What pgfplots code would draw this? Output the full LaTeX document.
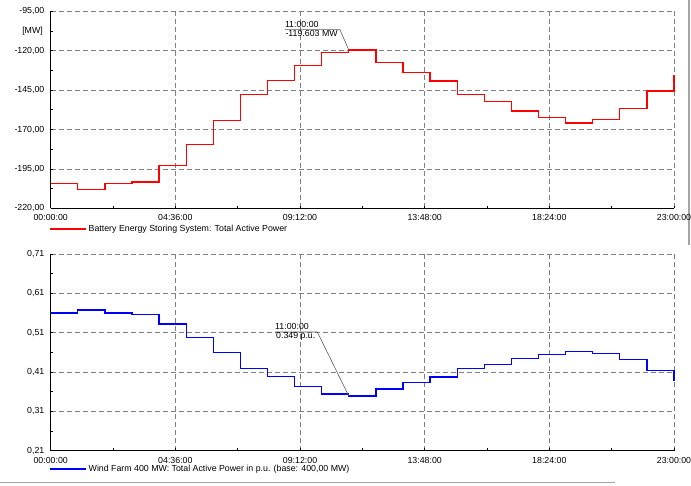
\documentclass[border=0pt]{standalone}
\usepackage{pgfplots}
\pgfplotsset{compat=1.18}
\usepackage{fontspec}
\setmainfont{Liberation Sans}
\definecolor{gridgray}{RGB}{128,128,128}
\definecolor{annot}{RGB}{90,90,90}
\definecolor{bessred}{RGB}{255,0,0}
\definecolor{windblue}{RGB}{0,0,255}
\definecolor{framegray}{RGB}{165,165,165}
\newcommand{\sz}{\fontsize{8.8}{10}\selectfont}
\pgfplotsset{
 mystyle/.style={
  scale only axis, width=623.3pt,
  xmin=0, xmax=23,
  axis x line*=bottom, axis y line*=left,
  axis line style={-, black, line width=0.9pt},
  xtick={0,4.6,9.2,13.8,18.4,23},
  xticklabels={00:00:00,04:36:00,09:12:00,13:48:00,18:24:00,23:00:00},
  minor xtick={2.3,6.9,11.5,16.1,20.7},
  grid=major,
  major grid style={gridgray, line width=0.7pt, dash pattern=on 5pt off 3pt},
  tick style={black, line width=0.6pt},
  major tick length=2.5pt, minor tick length=2.5pt,
  tick align=inside,
  ticklabel style={font=\sz},
  xticklabel style={yshift=-3pt},
  yticklabel style={xshift=-2.8pt},
  legend cell align=left,
  legend image code/.code={\draw[#1, line width=1.8pt] (0pt,0pt) -- (36pt,0pt);},
  clip=false,
 }
}
\pgfplotstableread{
h p
0 -204.3
1 -208.1
2 -204.3
3 -203.3
4 -192.9
5 -179.6
6 -164.2
7 -147.7
8 -139.0
9 -129.3
10 -121.2
11 -119.6
12 -127.6
13 -133.9
14 -139.2
15 -147.9
16 -152.1
17 -158.3
18 -162.5
19 -165.9
20 -163.7
21 -156.7
22 -145.6
23 -135.6
}\bess
\pgfplotstableread{
h p
0 0.560
1 0.568
2 0.560
3 0.557
4 0.532
5 0.498
6 0.459
7 0.419
8 0.398
9 0.373
10 0.354
11 0.349
12 0.367
13 0.384
14 0.397
15 0.419
16 0.429
17 0.445
18 0.455
19 0.462
20 0.457
21 0.441
22 0.413
23 0.386
}\wind
\begin{document}
\begin{tikzpicture}[x=1pt,y=1pt]
\path[use as bounding box] (0,0) rectangle (691,485);
\draw[framegray, line width=2pt] (688.5,485) -- (688.5,240);
\draw[framegray, line width=1.5pt] (0,2.3) -- (615,2.3);
% top axis
\begin{axis}[mystyle, at={(50.7pt,276.7pt)}, anchor=south west, height=197pt,
  ymin=-220, ymax=-95,
  ytick={-220,-195,-170,-145,-120,-95},
  yticklabels={{-220,00},{-195,00},{-170,00},{-145,00},{-120,00},{-95,00}},
  minor ytick={-207.5,-182.5,-157.5,-132.5,-107.5},
  legend style={at={(0,0)}, anchor=west, yshift=-20.4pt, xshift=-2pt, draw=none, fill=none, inner sep=0pt, font=\sz},
]
\addplot[const plot mark left, draw=bessred, line width=1.3pt] table[x=h,y=p] {\bess};
\addlegendentry{Battery Energy Storing System: Total Active Power}
\node[anchor=east, inner sep=0pt, font=\sz] at ([xshift=-7.7pt]rel axis cs:0,0.9) {[MW]};
\draw[annot, line width=0.6pt] (axis cs:11,-119.6) -- ++(-9pt,20.7pt) -- ++(-55pt,0pt) coordinate (b);
\node[anchor=base west, inner sep=0pt, font=\sz] at ([yshift=1.7pt]b) {11:00:00};
\node[anchor=base west, inner sep=0pt, font=\sz] at ([yshift=-6.7pt,xshift=0.5pt]b) {-119.603 MW};
\end{axis}
% bottom axis
\begin{axis}[mystyle, at={(50.7pt,34.3pt)}, anchor=south west, height=196.7pt,
  ymin=0.21, ymax=0.71,
  ytick={0.21,0.31,0.41,0.51,0.61,0.71},
  yticklabels={{0,21},{0,31},{0,41},{0,51},{0,61},{0,71}},
  minor ytick={0.26,0.36,0.46,0.56,0.66},
  legend style={at={(0,0)}, anchor=west, yshift=-18.6pt, xshift=-2pt, draw=none, fill=none, inner sep=0pt, font=\sz},
]
\addplot[const plot mark left, draw=windblue, line width=1.3pt] table[x=h,y=p] {\wind};
\addlegendentry{Wind Farm 400 MW: Total Active Power in p.u. (base: 400,00 MW)}
\draw[annot, line width=0.6pt] (axis cs:11,0.349) -- ++(-31.5pt,64pt) -- ++(-42.3pt,0pt) coordinate (c);
\node[anchor=base west, inner sep=0pt, font=\sz] at ([yshift=2.3pt]c) {11:00:00};
\node[anchor=base west, inner sep=0pt, font=\sz] at ([yshift=-6.7pt,xshift=1pt]c) {0.349 p.u.};
\end{axis}
\end{tikzpicture}
\end{document}
